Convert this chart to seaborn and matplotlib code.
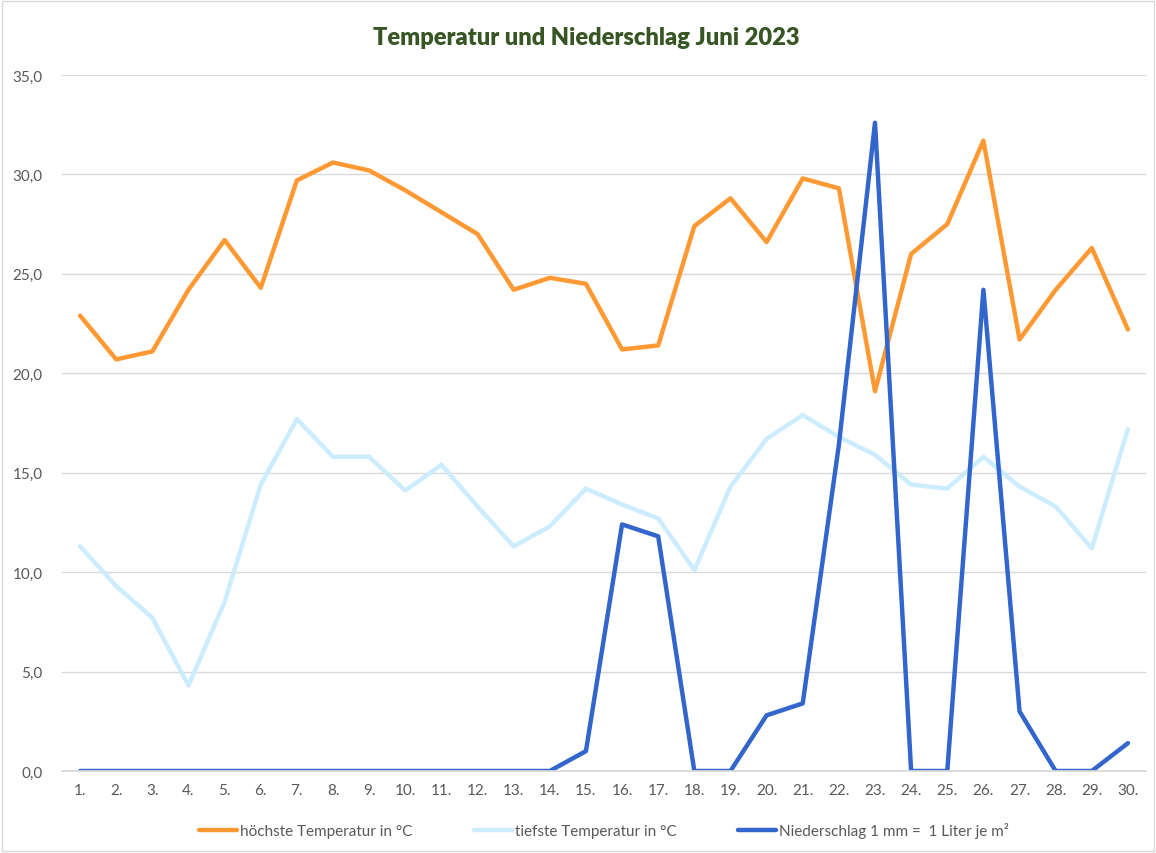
import pandas as pd
import numpy as np
import matplotlib.pyplot as plt
import seaborn as sns
from matplotlib.patches import Rectangle

sns.set_theme(style="white")
plt.rcParams["font.family"] = ["Lato", "DejaVu Sans"]

days = [f"{d}." for d in range(1, 31)]

temp_max = [22.9, 20.7, 21.1, 24.2, 26.7, 24.3, 29.7, 30.6, 30.2, 29.2,
            28.1, 27.0, 24.2, 24.8, 24.5, 21.2, 21.4, 27.4, 28.8, 26.6,
            29.8, 29.3, 19.1, 26.0, 27.5, 31.7, 21.7, 24.2, 26.3, 22.2]
temp_min = [11.3, 9.3, 7.7, 4.3, 8.5, 14.4, 17.7, 15.8, 15.8, 14.1,
            15.4, 13.3, 11.3, 12.3, 14.2, 13.4, 12.7, 10.1, 14.3, 16.7,
            17.9, 16.8, 15.9, 14.4, 14.2, 15.8, 14.3, 13.3, 11.2, 17.2]
rain = [0, 0, 0, 0, 0, 0, 0, 0, 0, 0,
        0, 0, 0, 0, 1.0, 12.4, 11.8, 0, 0, 2.8,
        3.4, 16.4, 32.6, 0, 0, 24.2, 3.0, 0, 0, 1.4]

series_names = ["höchste Temperatur in °C", "tiefste Temperatur in °C",
                "Niederschlag 1 mm =  1 Liter je m²"]
colors = ["#FF9933", "#CCECFF", "#3366CC"]

df = pd.DataFrame({
    "tag": np.tile(np.arange(1, 31), 3),
    "wert": temp_max + temp_min + rain,
    "serie": np.repeat(series_names, 30),
})

fig = plt.figure(figsize=(11.56, 8.54), dpi=100)
ax = fig.add_axes([62 / 1156, 82 / 854, 1084 / 1156, 696 / 854])

sns.lineplot(data=df, x="tag", y="wert", hue="serie", hue_order=series_names,
             palette=colors, linewidth=3.2, ax=ax, legend=True)

ax.set_xlim(0.5, 30.5)
ax.set_ylim(0, 35)
ax.set_yticks(np.arange(0, 36, 5))
ax.set_yticklabels([f"{v:.1f}".replace(".", ",") for v in np.arange(0, 36, 5)])
ax.set_xticks(np.arange(1, 31))
ax.set_xticklabels(days)
ax.tick_params(axis="both", colors="#595959", labelsize=11, length=0)
ax.tick_params(axis="y", pad=14)
ax.tick_params(axis="x", pad=9)
ax.yaxis.grid(True, color="#D9D9D9", linewidth=1)
ax.set_axisbelow(True)
for s in ["top", "right", "left"]:
    ax.spines[s].set_visible(False)
ax.spines["bottom"].set_color("#D9D9D9")
ax.set_xlabel("")
ax.set_ylabel("")

fig.suptitle("Temperatur und Niederschlag Juni 2023", x=0.507, y=1 - 38 / 854, va="center",
             fontsize=17, fontweight="heavy", color="#375623")

ax.legend(loc="center", bbox_to_anchor=(0.5, -0.085), ncol=3, frameon=False,
          fontsize=11, handlelength=2.5, handletextpad=0.2, columnspacing=4,
          labelcolor="#595959")

fig.patches.append(Rectangle((0.002, 0.002), 0.996, 0.996, transform=fig.transFigure,
                             fill=False, edgecolor="#D9D9D9", linewidth=1))

plt.savefig("out.png", dpi=100)
